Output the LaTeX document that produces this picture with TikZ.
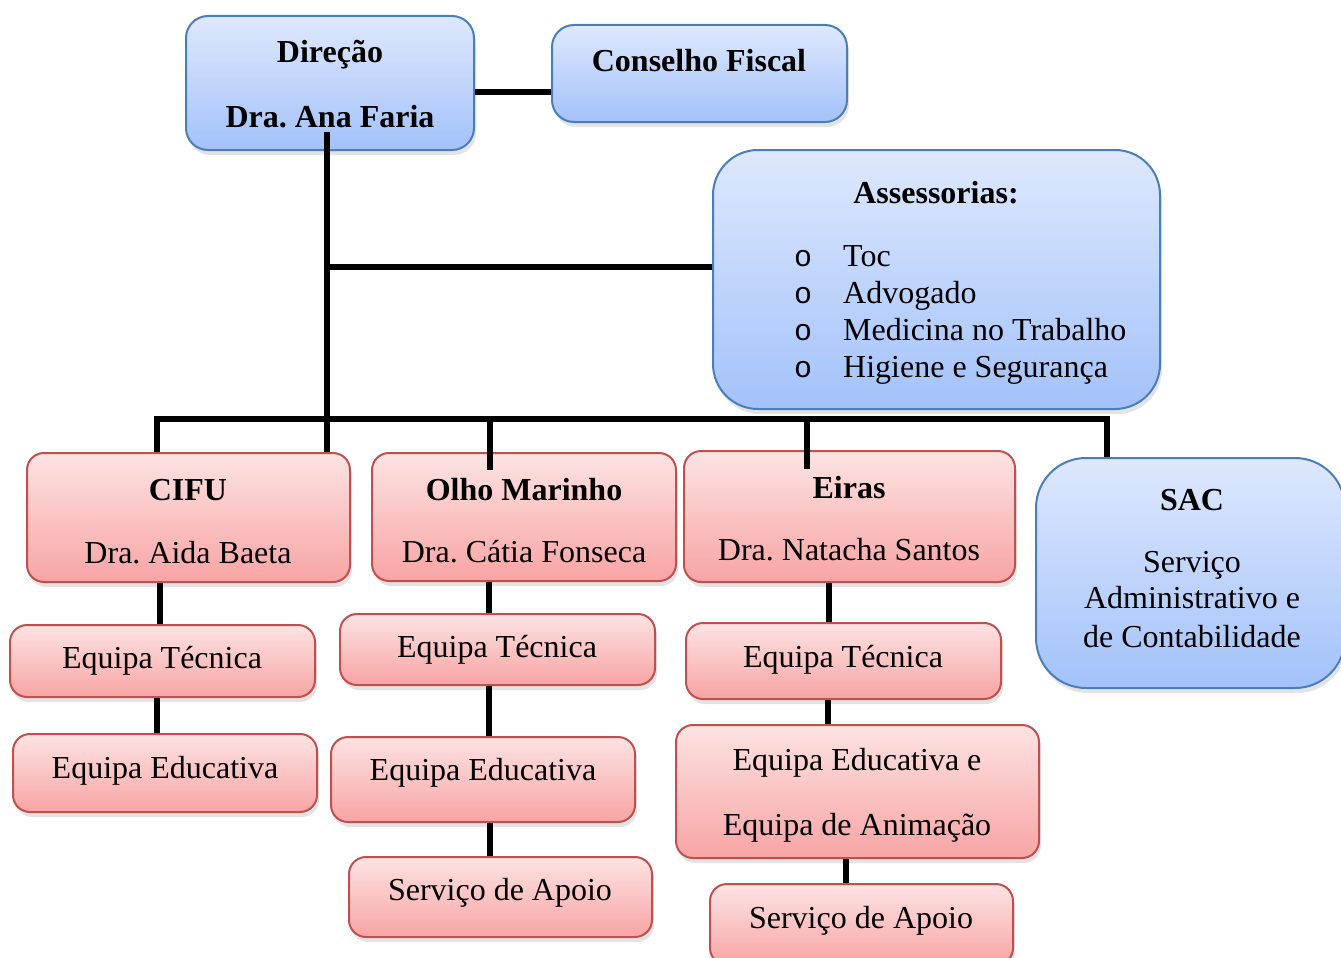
\documentclass[tikz,border=0pt]{standalone}
\usepackage{fontspec}
\setmainfont{Liberation Serif}
\newfontfamily\bulletfont{Liberation Mono}
\frenchspacing
\usetikzlibrary{shadows}
\definecolor{bTop}{HTML}{DEE8FD}
\definecolor{bBot}{HTML}{A3C2FA}
\definecolor{bLine}{HTML}{4A7EBB}
\definecolor{rTop}{HTML}{FDE3E3}
\definecolor{rBot}{HTML}{F8A4A4}
\definecolor{rLine}{HTML}{C0504D}
\tikzset{
  boxbase/.style={line width=2pt, inner sep=0pt, rectangle,
    drop shadow={shadow xshift=2pt, shadow yshift=-5pt, opacity=0.22}},
  bluebox/.style={boxbase, draw=bLine, top color=bTop, bottom color=bBot, rounded corners=22pt},
  redbox/.style={boxbase, draw=rLine, top color=rTop, bottom color=rBot, rounded corners=17pt},
  conn/.style={line width=5.5pt, draw=black},
  txt/.style={font=\fontsize{32}{38}\selectfont, inner sep=0pt, anchor=base},
  btxt/.style={txt, font=\fontsize{32}{38}\selectfont\bfseries},
  bul/.style={txt, font=\fontsize{30}{36}\selectfont\bulletfont},
}
\begin{document}
\begin{tikzpicture}[x=1pt,y=-1pt]
\useasboundingbox (0,0) rectangle (1341,958);
% boxes
\node[bluebox, minimum width=288, minimum height=134] (dir) at (330,83) {};
\node[bluebox, minimum width=295, minimum height=97] (cf) at (699.5,73.5) {};
\node[bluebox, rounded corners=45pt, minimum width=447, minimum height=259] (ass) at (936.5,279.5) {};
\node[redbox, minimum width=323, minimum height=129] (cifu) at (188.5,517.5) {};
\node[redbox, minimum width=304, minimum height=128] (om) at (524,517) {};
\node[redbox, minimum width=331, minimum height=131] (eir) at (849.5,516.5) {};
\node[bluebox, rounded corners=50pt, minimum width=309, minimum height=230] (sac) at (1190.5,573) {};
\node[redbox, minimum width=305, minimum height=72] (cet) at (162.5,661) {};
\node[redbox, minimum width=304, minimum height=78] (cee) at (165,773) {};
\node[redbox, minimum width=315, minimum height=71] (oet) at (497.5,649.5) {};
\node[redbox, minimum width=304, minimum height=85] (oee) at (483,779.5) {};
\node[redbox, minimum width=303, minimum height=80] (osa) at (500.5,897) {};
\node[redbox, minimum width=315, minimum height=76] (eet) at (843.5,661) {};
\node[redbox, minimum width=363, minimum height=133] (eea) at (857.5,791.5) {};
\node[redbox, minimum width=303, minimum height=81] (esa) at (861.5,924.5) {};
% texts
\node[btxt] (t1) at (330,63) {Direção};
\node[btxt] (t2) at (330,127) {Dra. Ana Faria};
\node[btxt] (t3) at (699,72) {Conselho Fiscal};
\node[btxt] (t4) at (936,203) {Assessorias:};
\node[bul] (b1) at (803,266) {o};
\node[bul] (b2) at (803,303) {o};
\node[bul] (b3) at (803,340) {o};
\node[bul] (b4) at (803,377) {o};
\node[txt, anchor=base west] (l1) at (843,266) {Toc};
\node[txt, anchor=base west] (l2) at (843,303) {Advogado};
\node[txt, anchor=base west] (l3) at (843,340) {Medicina no Trabalho};
\node[txt, anchor=base west] (l4) at (843,377) {Higiene e Segurança};
\node[btxt] (t5) at (188,500) {CIFU};
\node[txt] (t6) at (188,563) {Dra. Aida Baeta};
\node[btxt] (t7) at (524,500) {Olho Marinho};
\node[txt] (t8) at (524,562) {Dra. Cátia Fonseca};
\node[btxt] (t9) at (849,498) {Eiras};
\node[txt] (t10) at (849,560) {Dra. Natacha Santos};
\node[btxt] (t11) at (1192,510) {SAC};
\node[txt] (t12) at (1192,572) {Serviço};
\node[txt] (t13) at (1192,608) {Administrativo e};
\node[txt] (t14) at (1192,647) {de Contabilidade};
\node[txt] (t15) at (162,668) {Equipa Técnica};
\node[txt] (t16) at (165,778) {Equipa Educativa};
\node[txt] (t17) at (497,657) {Equipa Técnica};
\node[txt] (t18) at (483,780) {Equipa Educativa};
\node[txt] (t19) at (500,900) {Serviço de Apoio};
\node[txt] (t20) at (843,667) {Equipa Técnica};
\node[txt] (t21) at (857,770) {Equipa Educativa e};
\node[txt] (t22) at (857,835) {Equipa de Animação};
\node[txt] (t23) at (861,928) {Serviço de Apoio};
% connector guides
\coordinate (hcf) at (0,92);
\coordinate (trk) at (327,132);
\coordinate (hass) at (0,267);
\coordinate (bus) at (0,419);
\coordinate (d1) at (157,0);
\coordinate (d2) at (490,0);
\coordinate (d3) at (807,0);
\coordinate (d4) at (1107,0);
\coordinate (omin) at (490,470);
\coordinate (eirin) at (807,469);
\coordinate (x1) at (160,0);
\coordinate (x2) at (157,0);
\coordinate (x3) at (489,0);
\coordinate (x4) at (829,0);
\coordinate (x5) at (828,0);
\coordinate (x6) at (846,0);
% connectors
\draw[conn] (dir.east |- hcf) -- (cf.west |- hcf);
\draw[conn] (trk) -- (cifu.north -| trk);
\draw[conn] (trk |- hass) -- (ass.west |- hass);
\draw[conn] (cifu.north -| d1) -- (d1 |- bus) -- (d4 |- bus) -- (sac.north -| d4);
\draw[conn] (d2 |- bus) -- (omin);
\draw[conn] (d3 |- bus) -- (eirin);
\draw[conn] (cifu.south -| x1) -- (cet.north -| x1);
\draw[conn] (cet.south -| x2) -- (cee.north -| x2);
\draw[conn] (om.south -| x3) -- (oet.north -| x3);
\draw[conn] (oet.south -| x3) -- (oee.north -| x3);
\draw[conn] (oee.south -| d2) -- (osa.north -| d2);
\draw[conn] (eir.south -| x4) -- (eet.north -| x4);
\draw[conn] (eet.south -| x5) -- (eea.north -| x5);
\draw[conn] (eea.south -| x6) -- (esa.north -| x6);
\end{tikzpicture}
\end{document}
